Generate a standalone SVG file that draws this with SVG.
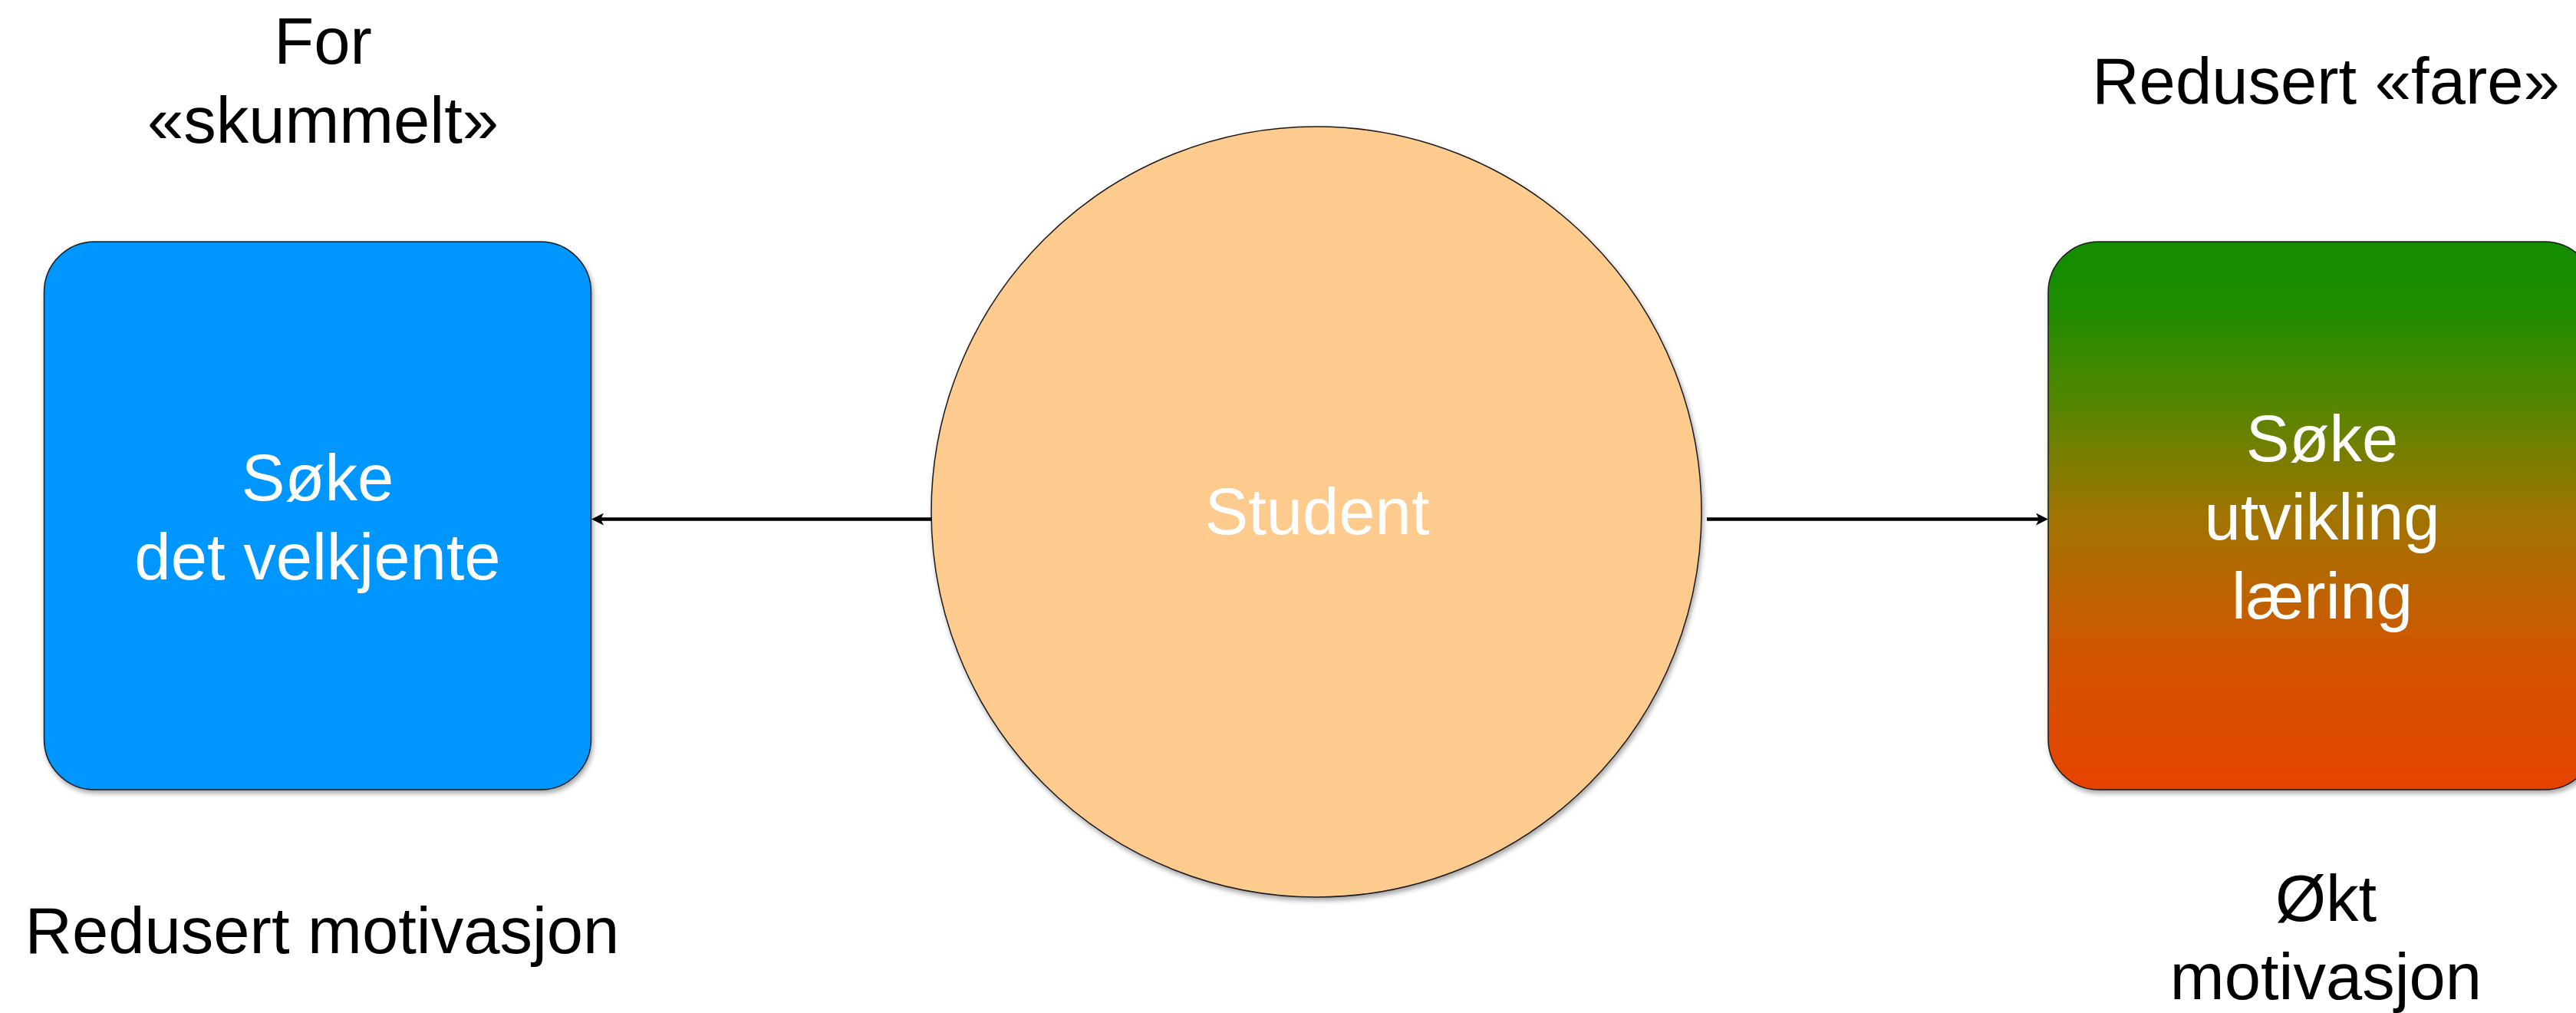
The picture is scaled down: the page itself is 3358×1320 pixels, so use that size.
<svg xmlns="http://www.w3.org/2000/svg" width="3358" height="1320" viewBox="0 0 3358 1320">
<defs>
<style>
text { font-family: "Liberation Sans", Arial, sans-serif; font-size: 85px; text-anchor: middle; }
.lbl { fill: #000000; }
.in { fill: #ffffff; }
.box { stroke: #1a1a1a; stroke-width: 1.5; filter: url(#sh); }
.conn { stroke: #000000; stroke-width: 4.5; fill: none; }
</style>
<linearGradient id="gr" x1="0" y1="0" x2="0" y2="1">
<stop offset="0" stop-color="#118C00"/>
<stop offset="0.12" stop-color="#1E8C00"/>
<stop offset="0.3" stop-color="#568600"/>
<stop offset="0.5" stop-color="#A07400"/>
<stop offset="0.75" stop-color="#D25600"/>
<stop offset="1" stop-color="#E64200"/>
</linearGradient>
<filter id="sh" x="-5%" y="-5%" width="115%" height="115%">
<feDropShadow dx="2" dy="4" stdDeviation="3" flood-color="#000" flood-opacity="0.35"/>
</filter>
<marker id="ah" markerUnits="userSpaceOnUse" viewBox="0 0 16 16" refX="4" refY="8" markerWidth="16" markerHeight="16" orient="auto">
<path d="M0,0 L16,8 L0,16 L4,8 Z" fill="#000"/>
</marker>
</defs>
<rect width="3358" height="1320" fill="#ffffff"/>

<g id="connectors">
<line class="conn" x1="1214" y1="676.5" x2="783" y2="676.5" marker-end="url(#ah)"/>
<line class="conn" x1="2225" y1="676.5" x2="2658" y2="676.5" marker-end="url(#ah)"/>
</g>

<g id="node-velkjente">
<rect class="box" x="57.5" y="315" width="713" height="714" rx="66" ry="66" fill="#0096FF"/>
<text class="in" x="414" y="652">Søke</text>
<text class="in" x="414" y="755">det velkjente</text>
</g>

<g id="node-student">
<circle class="box" cx="1716" cy="667" r="502" fill="#FECB8F"/>
<text class="in" x="1717" y="696" fill="#FFF9F2">Student</text>
</g>

<g id="node-utvikling">
<rect class="box" x="2670" y="315" width="713" height="714" rx="66" ry="66" fill="url(#gr)"/>
<text class="in" x="3027" y="601">Søke</text>
<text class="in" x="3027" y="703">utvikling</text>
<text class="in" x="3027" y="806">læring</text>
</g>

<g id="label-skummelt">
<text class="lbl" x="421" y="83">For</text>
<text class="lbl" x="421" y="186">«skummelt»</text>
</g>

<g id="label-fare">
<text class="lbl" x="3032" y="135">Redusert «fare»</text>
</g>

<g id="label-redusert-motivasjon">
<text class="lbl" x="420" y="1242">Redusert motivasjon</text>
</g>

<g id="label-okt-motivasjon">
<text class="lbl" x="3032" y="1200">Økt</text>
<text class="lbl" x="3032" y="1302">motivasjon</text>
</g>
</svg>
